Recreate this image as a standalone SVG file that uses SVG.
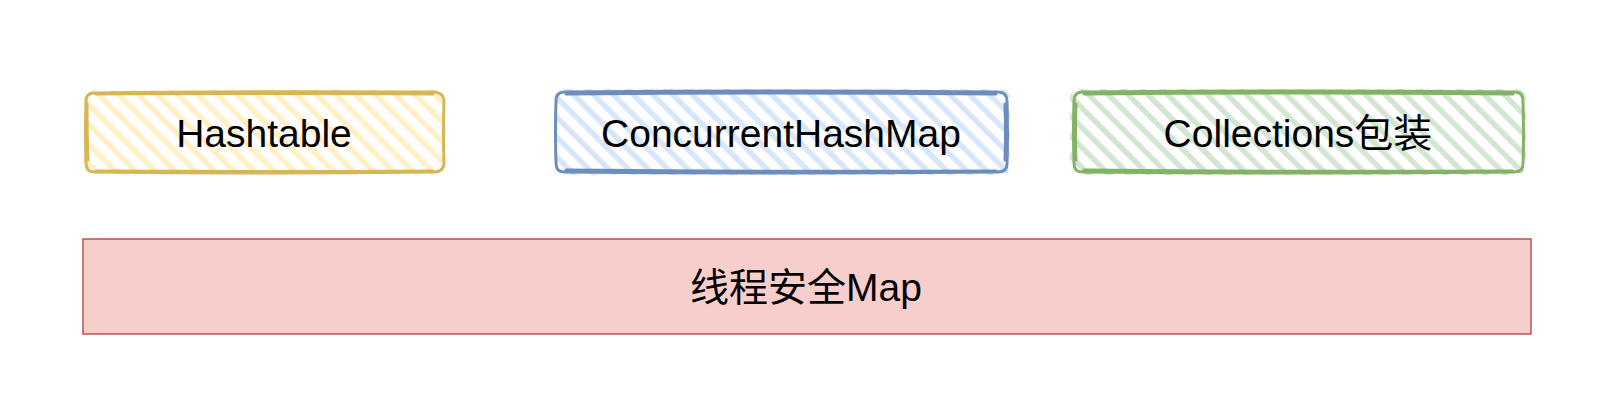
<svg xmlns="http://www.w3.org/2000/svg" width="1606" height="402" viewBox="0 0 1606 402">
<style>
.lbl{font-family:"Liberation Sans","Noto Sans CJK SC",Arial,sans-serif;font-size:39px;fill:#000;text-anchor:middle}
.edge{fill:none;stroke-width:3;stroke-linejoin:round;stroke-linecap:round}
</style>
<defs>
<pattern id="hy" width="14" height="14" patternUnits="userSpaceOnUse" patternTransform="rotate(-45)"><rect x="0" y="0" width="5.5" height="14" fill="#fff0c6"/></pattern>
<pattern id="hb" width="14" height="14" patternUnits="userSpaceOnUse" patternTransform="rotate(-45)"><rect x="0" y="0" width="5.5" height="14" fill="#d8e6fb"/></pattern>
<pattern id="hg" width="14" height="14" patternUnits="userSpaceOnUse" patternTransform="rotate(-45)"><rect x="0" y="0" width="5.5" height="14" fill="#d3e6d1"/></pattern>
</defs>
<rect width="1606" height="402" fill="#ffffff"/>
<g id="connectors"></g>
<g id="hashtable">
<rect x="84" y="90" width="361" height="84" rx="9" fill="url(#hy)"/>
<path class="edge" stroke="#d6b656" d="M94,93 Q240,91 435,92 Q444,93 444,102 Q443,135 444,164 Q443,172 434,172 Q260,174 94,172 Q86,172 86,163 Q85,130 86,101 Q86,93 94,93 Z"/>
<path class="edge" stroke="#d6b656" stroke-width="1.5" d="M96,94 Q250,93 433,94 M87,104 Q87,135 88,160 M96,171 Q260,172 432,171"/>
<text class="lbl" x="264" y="147">Hashtable</text>
</g>
<g id="concurrenthashmap">
<rect x="554" y="89" width="456" height="86" rx="9" fill="url(#hb)"/>
<path class="edge" stroke="#6c8ebf" d="M564,92 Q780,90 998,92 Q1007,92 1007,101 Q1008,135 1007,164 Q1007,172 998,172 Q780,174 564,172 Q556,172 556,163 Q555,130 556,101 Q556,92 564,92 Z"/>
<path class="edge" stroke="#6c8ebf" stroke-width="1.5" d="M566,94 Q780,92 996,94 M1005,104 Q1006,135 1005,160 M566,170 Q780,172 996,171"/>
<text class="lbl" x="781" y="147">ConcurrentHashMap</text>
</g>
<g id="collections">
<rect x="1070" y="89" width="456" height="86" rx="9" fill="url(#hg)"/>
<path class="edge" stroke="#82b366" d="M1082,92 Q1300,90 1515,92 Q1523,92 1523,101 Q1524,135 1523,164 Q1523,172 1514,172 Q1300,174 1082,172 Q1074,172 1074,163 Q1073,130 1074,101 Q1074,92 1082,92 Z"/>
<path class="edge" stroke="#82b366" stroke-width="1.5" d="M1084,94 Q1300,92 1513,94 M1076,104 Q1075,135 1076,160 M1084,170 Q1300,172 1513,171"/>
<text class="lbl" x="1298" y="147">Collections包装</text>
</g>
<g id="threadsafe-map">
<rect x="83" y="239" width="1448" height="95" fill="#f8cecc" stroke="#b85450" stroke-width="1.5"/>
<text class="lbl" x="806" y="301">线程安全Map</text>
</g>
</svg>
